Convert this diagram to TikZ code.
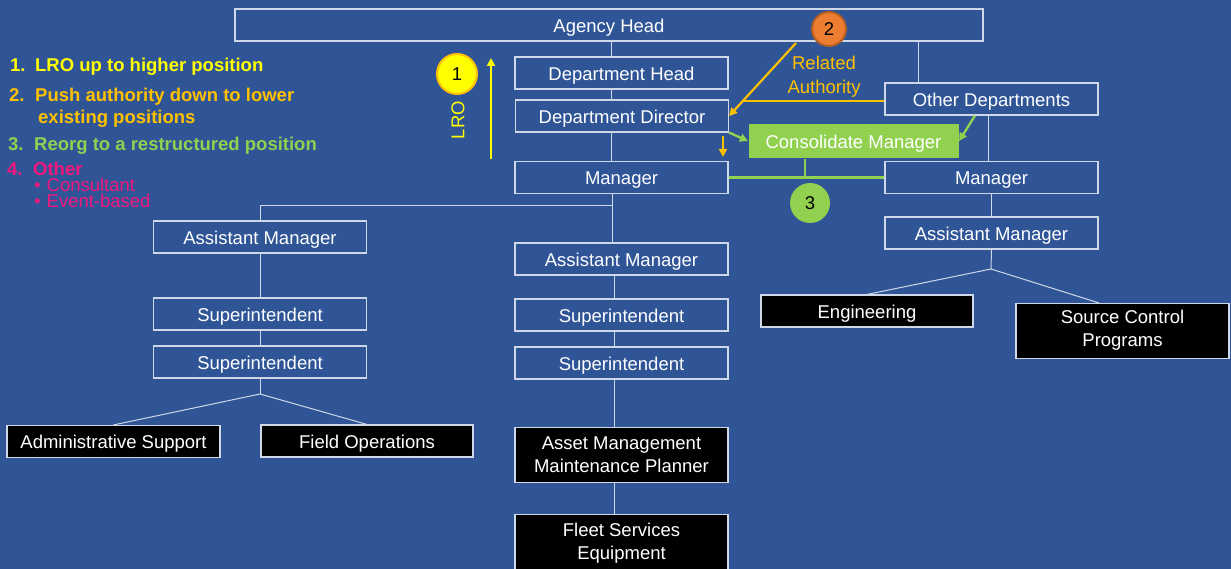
\documentclass[tikz,border=0pt]{standalone}
\usepackage{fontspec}
\setmainfont{Liberation Sans}
\usetikzlibrary{arrows.meta}
\definecolor{slide}{HTML}{2F5597}
\definecolor{rule}{HTML}{D0D8E8}
\definecolor{leaf}{HTML}{92D050}
\definecolor{gold}{HTML}{FFC000}
\definecolor{lemon}{HTML}{FFFF00}
\definecolor{rust}{HTML}{ED7D31}
\definecolor{rose}{HTML}{F2177C}

\begin{document}
\begin{tikzpicture}[x=1pt,y=-1pt,font=\fontsize{18.5}{23}\selectfont,text=white,
  >={Triangle[length=8pt,width=8pt]},
  cell/.style={draw=rule,line width=1.1pt,minimum width=213pt,minimum height=32pt,inner sep=0pt},
  jobbox/.style={cell,text height=14.5pt,text depth=0pt},
  unitbox/.style={jobbox,fill=black},
  tallunit/.style={cell,fill=black,align=center,minimum height=55pt},
  link/.style={rule,line width=1pt},
  goldline/.style={gold,line width=2.2pt},
  leafline/.style={leaf,line width=2.4pt},
  badge/.style={circle,text=black,inner sep=0pt,line width=2pt},
  legend/.style={anchor=west,inner sep=0pt,align=left,font=\fontsize{18.5}{22}\selectfont\bfseries}]
  \def\spineA{611}\def\spineB{614}
  \fill[slide] (0,0) rectangle (1231,569);
  \useasboundingbox (0,0) rectangle (1231,569);
  % legend
  \node[legend,lemon] (item1) at (10,66.5) {\makebox[25pt][l]{1.}LRO up to higher position};
  \node[legend,gold] (item2) at (9,107.5) {\makebox[26pt][l]{2.}Push authority down to lower\\\hspace*{29pt}existing positions};
  \node[legend,leaf] (item3) at (8,145.5) {\makebox[26pt][l]{3.}Reorg to a restructured position};
  \node[legend,rose] (item4) at (7,169) {\makebox[26pt][l]{4.}Other};
  \node[anchor=west,inner sep=0pt,rose,align=left,font=\fontsize{18.5}{16}\selectfont] (item4sub) at (34,193)
    {\textbullet\hspace{6pt}Consultant\\\textbullet\hspace{6pt}Event-based};
  % positions
  \node[jobbox,minimum width=748pt] (agency) at (609,25) {Agency Head};
  \node[jobbox] (depthead) at (621.5,73) {Department Head};
  \node[jobbox] (deptdir) at (622,116) {Department Director};
  \node[jobbox] (mgr) at (621.5,177.5) {Manager};
  \node[jobbox] (asstC) at (621.5,259) {Assistant Manager};
  \node[jobbox] (superC1) at (621.5,315) {Superintendent};
  \node[jobbox] (superC2) at (621.5,363) {Superintendent};
  \node[tallunit] (asset) at (621.5,455) {Asset Management\\Maintenance Planner};
  \node[tallunit,minimum height=58pt] (fleet) at (621.5,543.5) {Fleet Services\\Equipment};
  \node[jobbox] (asstL) at (260,237) {Assistant Manager};
  \node[jobbox] (superL1) at (260,314) {Superintendent};
  \node[jobbox] (superL2) at (260,362) {Superintendent};
  \node[unitbox] (admin) at (113.5,441.5) {Administrative Support};
  \node[unitbox,minimum width=212pt] (field) at (367,441) {Field Operations};
  \node[jobbox] (otherdept) at (991.5,99) {Other Departments};
  \node[jobbox] (mgrR) at (991.5,177.5) {Manager};
  \node[jobbox] (asstR) at (991.5,233) {Assistant Manager};
  \node[unitbox,minimum width=212pt] (eng) at (867,311) {Engineering};
  \node[tallunit,text depth=6pt] (source) at (1122.5,331) {Source Control\\Programs};
  \node[jobbox,draw=none,fill=leaf,minimum width=210pt,minimum height=34pt] (consol) at (853.5,141) {Consolidate Manager};
  % reporting lines
  \draw[link] (\spineA,0 |- agency.south) -- (\spineA,0 |- depthead.north);
  \draw[link] (\spineA,0 |- depthead.south) -- (\spineA,0 |- deptdir.north);
  \draw[link] (\spineA,0 |- deptdir.south) -- (\spineA,0 |- mgr.north);
  \draw[link] (612,0 |- mgr.south) -- (612,0 |- asstC.north);
  \draw[link] (612,206) -| (asstL.north);
  \draw[link] (\spineB,0 |- asstC.south) -- (\spineB,0 |- superC1.north);
  \draw[link] (\spineB,0 |- superC1.south) -- (\spineB,0 |- superC2.north);
  \draw[link] (\spineB,0 |- superC2.south) -- (\spineB,0 |- asset.north);
  \draw[link] (\spineB,0 |- asset.south) -- (\spineB,0 |- fleet.north);
  \draw[link] (asstL) -- (superL1);
  \draw[link] (superL1) -- (superL2);
  \coordinate (forkL) at (260,394);
  \draw[link] (superL2.south) -- (forkL);
  \draw[link] (admin.north) -- (forkL) -- (field.north);
  \draw[link] (918,0 |- agency.south) -- (918,0 |- otherdept.north);
  \draw[link] (988,0 |- otherdept.south) -- (988,0 |- mgrR.north);
  \draw[link] (mgrR) -- (asstR);
  \coordinate (forkR) at (991,269);
  \draw[link] (asstR.south) -- (forkR);
  \draw[link] (eng.north) -- (forkR) -- (1099,0 |- source.north);
  % 1: LRO
  \node[badge,fill=lemon,draw=gold,minimum size=40pt] (one) at (457,74) {1};
  \coordinate (lrobase) at (491,159);
  \coordinate (lrotip) at (491,58);
  \draw[lemon,line width=2pt,->] (lrobase) -- (lrotip);
  \node[lemon,rotate=90] (lro) at (458,120) {LRO};
  % 2: related authority
  \node[badge,fill=rust,draw=rust!75!black,minimum size=34pt] (two) at (829,29) {2};
  \node[gold,align=center] (related) at (824,77) {Related\\[1pt]Authority};
  \coordinate (relstart) at (796,43);
  \coordinate (relmeet) at (742,101);
  \draw[goldline,->] (relstart) -- (deptdir.east);
  \draw[goldline] (otherdept.west |- relmeet) -- (relmeet);
  \draw[goldline,->,shorten <=3pt,shorten >=4pt] (723,0 |- deptdir.south) -- (723,0 |- mgr.north);
  % 3: consolidate
  \draw[leafline] (mgr.east) -- (mgrR.west);
  \draw[leafline] (805,0 |- consol.south) -- (805,0 |- mgr.east);
  \draw[leafline,->] (deptdir.south east) -- (consol.west);
  \draw[leafline,->] (975,0 |- otherdept.south) -- (consol.east);
  \node[badge,fill=leaf,minimum size=40pt] (three) at (810,203) {3};
\end{tikzpicture}
\end{document}
